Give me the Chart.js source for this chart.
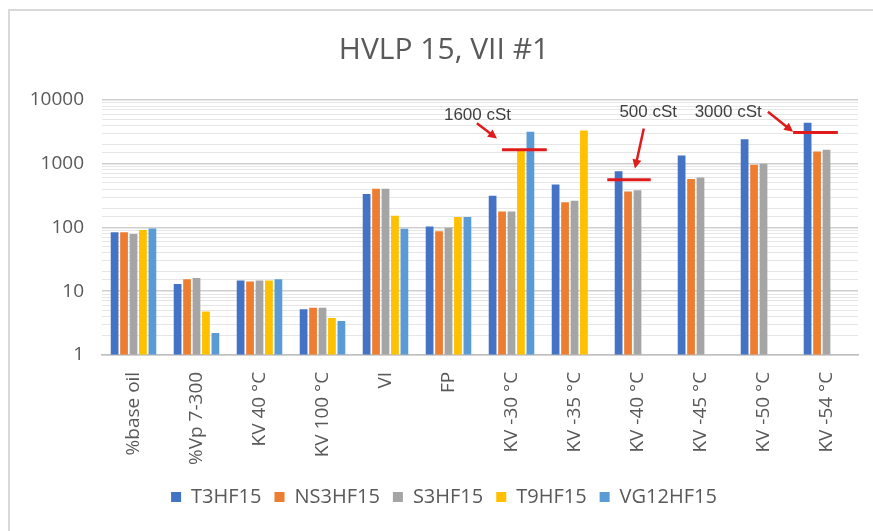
<!DOCTYPE html>
<html lang="en">
<head>
    <meta charset="UTF-8">
    <title>HVLP 15, VII #1</title>
    <script src="https://cdn.jsdelivr.net/npm/chart.js"></script>
    <style>
        body { margin: 0; background: #fff; }
        #wrap { position: relative; width: 873px; height: 531px; }
        #frame { position: absolute; left: 8px; top: 9px; right: 0; bottom: 0;
                 border-left: 2px solid #d9d9d9; border-top: 2px solid #d9d9d9; pointer-events: none; }
    </style>
</head>
<body>
    <div id="wrap">
        <canvas id="canvas" width="873" height="531"></canvas>
        <div id="frame"></div>
    </div>
<script>
    const categories = ['%base oil', '%Vp 7-300', 'KV 40 °C', 'KV 100 °C', 'VI', 'FP',
        'KV -30 °C', 'KV -35 °C', 'KV -40 °C', 'KV -45 °C', 'KV -50 °C', 'KV -54 °C'];
    const t3hf15 = [84, 12.9, 14.7, 5.2, 336, 103, 313, 471, 762, 1345, 2430, 4400];
    const ns3hf15 = [84, 15.3, 14.2, 5.5, 403, 87, 177, 248, 365, 578, 960, 1550];
    const s3hf15 = [79, 16, 14.7, 5.5, 403, 99, 177, 261, 383, 607, 996, 1650];
    const t9hf15 = [91, 4.8, 14.7, 3.8, 153, 146, 1610, 3330, null, null, null, null];
    const vg12hf15 = [96, 2.2, 15.3, 3.4, 95, 146, 3170, null, null, null, null, null];
    const yTicks = [1, 10, 100, 1000, 10000];

    // red limit marks: x in category index units, y in axis values
    const limits = [
        { text: '1600 cSt', tx: 5.46, ty: 5660, ax: [5.45, 4300, 5.77, 2490], line: [5.85, 6.56, 1650] },
        { text: '500 cSt', tx: 8.17, ty: 6400, ax: [8.10, 3580, 7.96, 840], line: [7.52, 8.21, 560] },
        { text: '3000 cSt', tx: 9.44, ty: 6400, ax: [10.07, 6540, 10.47, 3170], line: [10.47, 11.18, 3100] }
    ];

    const font = 'Open Sans';
    const grey = '#595959';

    const limitMarks = {
        id: 'limitMarks',
        afterDatasetsDraw(chart) {
            const c = chart.ctx, x = chart.scales.x, y = chart.scales.y;
            c.save();
            c.strokeStyle = '#e01b1b';
            c.fillStyle = '#e01b1b';
            limits.forEach(l => {
                // horizontal line
                c.lineWidth = 3;
                c.beginPath();
                c.moveTo(x.getPixelForValue(l.line[0]), y.getPixelForValue(l.line[2]));
                c.lineTo(x.getPixelForValue(l.line[1]), y.getPixelForValue(l.line[2]));
                c.stroke();
                // arrow
                const x1 = x.getPixelForValue(l.ax[0]), y1 = y.getPixelForValue(l.ax[1]);
                const x2 = x.getPixelForValue(l.ax[2]), y2 = y.getPixelForValue(l.ax[3]);
                const a = Math.atan2(y2 - y1, x2 - x1);
                c.lineWidth = 2.5;
                c.beginPath();
                c.moveTo(x1, y1);
                c.lineTo(x2 - 5 * Math.cos(a), y2 - 5 * Math.sin(a));
                c.stroke();
                c.beginPath();
                c.moveTo(x2, y2);
                c.lineTo(x2 - 9 * Math.cos(a) + 4.5 * Math.sin(a), y2 - 9 * Math.sin(a) - 4.5 * Math.cos(a));
                c.lineTo(x2 - 9 * Math.cos(a) - 4.5 * Math.sin(a), y2 - 9 * Math.sin(a) + 4.5 * Math.cos(a));
                c.closePath();
                c.fill();
            });
            c.fillStyle = '#404040';
            c.font = '17px "Liberation Sans"';
            c.textAlign = 'center';
            c.textBaseline = 'middle';
            limits.forEach(l => {
                c.fillText(l.text, x.getPixelForValue(l.tx), y.getPixelForValue(l.ty));
            });
            c.restore();
        }
    };

    const isMajor = v => yTicks.includes(v);

    const ctx = document.getElementById('canvas').getContext('2d');
    const chart = new Chart(ctx, {
        type: 'bar',
        data: {
            labels: categories,
            datasets: [
                { label: 'T3HF15', data: t3hf15, backgroundColor: '#4472c4' },
                { label: 'NS3HF15', data: ns3hf15, backgroundColor: '#ed7d31' },
                { label: 'S3HF15', data: s3hf15, backgroundColor: '#a5a5a5' },
                { label: 'T9HF15', data: t9hf15, backgroundColor: '#ffc000' },
                { label: 'VG12HF15', data: vg12hf15, backgroundColor: '#5b9bd5' }
            ]
        },
        options: {
            responsive: false,
            animation: false,
            categoryPercentage: 0.75,
            barPercentage: 0.82,
            layout: { padding: { left: 30, right: 15, top: 22, bottom: 14 } },
            plugins: {
                title: {
                    display: true,
                    text: 'HVLP 15, VII #1',
                    color: grey,
                    font: { family: font, size: 30, weight: 'normal' },
                    padding: { top: 10, bottom: 32 }
                },
                legend: {
                    position: 'bottom',
                    labels: {
                        color: grey,
                        font: { family: font, size: 20 },
                        boxWidth: 10,
                        boxHeight: 10,
                        padding: 13
                    }
                },
                tooltip: { enabled: false }
            },
            scales: {
                x: {
                    grid: { display: false },
                    border: { color: '#bfbfbf', width: 1.5 },
                    ticks: {
                        color: grey,
                        font: { family: font, size: 19 },
                        minRotation: 90,
                        maxRotation: 90,
                        padding: 9,
                        autoSkip: false
                    }
                },
                y: {
                    type: 'logarithmic',
                    min: 1,
                    max: 10000,
                    afterFit: s => { s.width = 72; },
                    border: { display: false },
                    grid: {
                        drawTicks: false,
                        color: c => isMajor(c.tick.value) ? '#cfcfcf' : '#e6e6e6',
                        lineWidth: c => isMajor(c.tick.value) ? 1.6 : 1
                    },
                    ticks: {
                        color: grey,
                        font: { family: font, size: 19 },
                        padding: 18,
                        autoSkip: false,
                        callback: v => isMajor(v) ? String(v) : ''
                    }
                }
            }
        },
        plugins: [limitMarks]
    });
</script>
</body>
</html>
